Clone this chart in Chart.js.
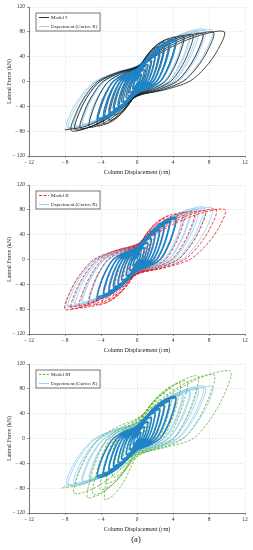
<!DOCTYPE html>
<html>
<head>
<meta charset="utf-8">
<script src="https://cdn.jsdelivr.net/npm/chart.js@4.4.0/dist/chart.umd.min.js"></script>
<style>
  body { margin: 0; background: #fff; width: 253px; height: 550px; position: relative; overflow: hidden; }
  canvas { position: absolute; left: 0; }
  #c1 { top: 0; }
  #c2 { top: 178px; }
  #c3 { top: 357px; }
  #caption { position: absolute; top: 534px; left: 116px; width: 40px; text-align: center;
             font: 8.5px "Liberation Serif", serif; color: #222; }
</style>
</head>
<body>
<canvas id="c1" width="253" height="178"></canvas>
<canvas id="c2" width="253" height="178"></canvas>
<canvas id="c3" width="253" height="178"></canvas>
<div id="caption">(a)</div>
<script>
// axis ticks
const dispTicks = [-12, -8, -4, 0, 4, 8, 12];
const forceTicks = [-120, -80, -40, 0, 40, 80, 120];

// Experiment (Curico X) - small cycles, one row per cycle
const expCoreDisp = [
  0, 0.16, 0.29, 0.4, 0.37, 0.31, 0.24, 0.12, 0, -0.16, -0.29, -0.4,
  -0.37, -0.31, -0.24, -0.12, 0, 0.32, 0.58, 0.8, 0.74, 0.62, 0.48, 0.24, 0, -0.32, -0.58, -0.8,
  -0.74, -0.62, -0.48, -0.24, 0, 0.48, 0.86, 1.2, 1.1, 0.94, 0.72, 0.36, 0, -0.48, -0.86, -1.2,
  -1.1, -0.94, -0.72, -0.36, 0, 0.64, 1.15, 1.6, 1.47, 1.25, 0.96, 0.48, 0, -0.68, -1.22, -1.7,
  -1.56, -1.33, -1.02, -0.51, 0, 0.8, 1.44, 2.0, 1.84, 1.56, 1.2, 0.6, 0, -0.84, -1.51, -2.1,
  -1.93, -1.64, -1.26, -0.63, 0, 1.0, 1.8, 2.5, 2.3, 1.95, 1.5, 0.75, 0, -1.04, -1.87, -2.6,
  -2.39, -2.03, -1.56, -0.78, 0, 1.0, 1.8, 2.5, 2.3, 1.95, 1.5, 0.75, 0, -1.04, -1.87, -2.6,
  -2.39, -2.03, -1.56, -0.78, 0, 1.2, 2.16, 3.0, 2.76, 2.34, 1.8, 0.9, 0, -1.24, -2.23, -3.1,
  -2.85, -2.42, -1.86, -0.93, 0, 1.2, 2.16, 3.0, 2.76, 2.34, 1.8, 0.9, 0, -1.24, -2.23, -3.1,
  -2.85, -2.42, -1.86, -0.93, 0, 1.44, 2.59, 3.6, 3.31, 2.81, 2.16, 1.08, 0, -1.48, -2.66, -3.7,
  -3.4, -2.89, -2.22, -1.11, 0, 1.44, 2.59, 3.6, 3.31, 2.81, 2.16, 1.08, 0, -1.48, -2.66, -3.7,
  -3.4, -2.89, -2.22, -1.11, 0, 1.72, 3.1, 4.3, 3.96, 3.35, 2.58, 1.29, 0, -1.76, -3.17, -4.4,
  -4.05, -3.43, -2.64, -1.32, 0, 1.72, 3.1, 4.3, 3.96, 3.35, 2.58, 1.29, 0, -1.76, -3.17, -4.4
];
const expCoreForce = [
  0, 7, 9.3, 10, 6.2, 2.8, 0, -1.8, -3, -7, -9.3, -10,
  -6.2, -2.8, 0, 3.4, 5.7, 13.3, 17.7, 19, 11.8, 5.3, 0, -3.2, -5.4, -12.6, -16.7, -18,
  -11.2, -5, 0, 4.9, 8.1, 18.9, 25.1, 27, 16.7, 7.6, 0, -4.7, -7.8, -18.2, -24.2, -26,
  -16.1, -7.3, 0, 6.1, 10.2, 23.8, 31.6, 34, 21.1, 9.5, 0, -5.9, -9.9, -23.1, -30.7, -33,
  -20.5, -9.2, 0, 7.4, 12.3, 28.7, 38.1, 41, 25.4, 11.5, 0, -7, -11.7, -27.3, -36.3, -39,
  -24.2, -10.9, 0, 8.6, 14.4, 33.6, 44.6, 48, 29.8, 13.4, 0, -8.1, -13.5, -31.5, -41.9, -45,
  -27.9, -12.6, 0, 8.3, 13.8, 32.2, 42.8, 46, 28.5, 12.9, 0, -7.7, -12.9, -30.1, -40, -43,
  -26.7, -12, 0, 9.9, 16.5, 38.5, 51.2, 55, 34.1, 15.4, 0, -9.2, -15.3, -35.7, -47.4, -51,
  -31.6, -14.3, 0, 9.5, 15.9, 37.1, 49.3, 53, 32.9, 14.8, 0, -8.8, -14.7, -34.3, -45.6, -49,
  -30.4, -13.7, 0, 11, 18.3, 42.7, 56.7, 61, 37.8, 17.1, 0, -10.3, -17.1, -39.9, -53, -57,
  -35.3, -16, 0, 10.6, 17.7, 41.3, 54.9, 59, 36.6, 16.5, 0, -9.9, -16.5, -38.5, -51.2, -55,
  -34.1, -15.4, 0, 12.1, 20.1, 46.9, 62.3, 67, 41.5, 18.8, 0, -11.2, -18.6, -43.4, -57.7, -62,
  -38.4, -17.4, 0, 11.7, 19.5, 45.5, 60.5, 65, 40.3, 18.2, 0, -10.8, -18, -42, -55.8, -60
];

// Experiment (Curico X) - large cycles
const expOuterDisp = [
  -4.4,
  -4.05, -3.43, -2.64, -1.32, 0, 2.0, 3.6, 5.0, 4.6, 3.9, 3.0, 1.5, 0, -2.08, -3.74, -5.2,
  -4.78, -4.06, -3.12, -1.56, 0, 2.04, 3.67, 5.1, 4.69, 3.98, 3.06, 1.53, 0, -2.12, -3.82, -5.3,
  -4.88, -4.13, -3.18, -1.59, 0, 2.32, 4.18, 5.8, 5.34, 4.52, 3.48, 1.74, 0, -2.4, -4.32, -6.0,
  -5.52, -4.68, -3.6, -1.8, 0, 2.36, 4.25, 5.9, 5.43, 4.6, 3.54, 1.77, 0, -2.44, -4.39, -6.1,
  -5.61, -4.76, -3.66, -1.83, 0, 2.64, 4.75, 6.6, 6.07, 5.15, 3.96, 1.98, 0, -2.72, -4.9, -6.8,
  -6.26, -5.3, -4.08, -2.04, 0, 2.72, 4.9, 6.8, 6.26, 5.3, 4.08, 2.04, 0, -2.8, -5.04, -7.0,
  -6.44, -5.46, -4.2, -2.1, 0, 2.96, 5.33, 7.4, 6.81, 5.77, 4.44, 2.22, 0, -3.04, -5.47, -7.6,
  -6.99, -5.93, -4.56, -2.28, 0, 3.04, 5.47, 7.6, 6.99, 5.93, 4.56, 2.28, 0, -3.12, -5.62, -7.8,
  -7.18, -6.08, -4.68, -2.34, 0, 3.36, 6.05, 8.4, 7.73, 6.55, 5.04, 2.52, 0, -3.24, -5.83, -8.1
];
const expOuterForce = [
  -60,
  -38.4, -17.4, 0, 13, 21.6, 50.4, 67, 72, 44.6, 20.2, 0, -11.9, -19.8, -46.2, -61.4, -66,
  -40.9, -18.5, 0, 12.6, 21, 49, 65.1, 70, 43.4, 19.6, 0, -11.5, -19.2, -44.8, -59.5, -64,
  -39.7, -17.9, 0, 13.9, 23.1, 53.9, 71.6, 77, 47.7, 21.6, 0, -12.6, -21, -49, -65.1, -70,
  -43.4, -19.6, 0, 13.5, 22.5, 52.5, 69.8, 75, 46.5, 21, 0, -12.2, -20.4, -47.6, -63.2, -68,
  -42.2, -19, 0, 14.6, 24.3, 56.7, 75.3, 81, 50.2, 22.7, 0, -13.1, -21.9, -51.1, -67.9, -73,
  -45.3, -20.4, 0, 14.2, 23.7, 55.3, 73.5, 79, 49, 22.1, 0, -12.8, -21.3, -49.7, -66, -71,
  -44, -19.9, 0, 15.1, 25.2, 58.8, 78.1, 84, 52.1, 23.5, 0, -13.5, -22.5, -52.5, -69.8, -75,
  -46.5, -21, 0, 14.8, 24.6, 57.4, 76.3, 82, 50.8, 23, 0, -13.1, -21.9, -51.1, -67.9, -73,
  -45.3, -20.4, 0, 14.9, 24.9, 58.1, 77.2, 83, 51.5, 23.2, 0, -13.9, -23.1, -53.9, -71.6, -77
];

// Model I
const model1Disp = [
  0, 0.2, 0.36, 0.5, 0.46, 0.39, 0.3, 0.15, 0, -0.2, -0.36, -0.5,
  -0.46, -0.39, -0.3, -0.15, 0, 0.4, 0.72, 1.0, 0.92, 0.78, 0.6, 0.3, 0, -0.4, -0.72, -1.0,
  -0.92, -0.78, -0.6, -0.3, 0, 0.6, 1.08, 1.5, 1.38, 1.17, 0.9, 0.45, 0, -0.6, -1.08, -1.5,
  -1.38, -1.17, -0.9, -0.45, 0, 0.8, 1.44, 2.0, 1.84, 1.56, 1.2, 0.6, 0, -0.8, -1.44, -2.0,
  -1.84, -1.56, -1.2, -0.6, 0, 1.0, 1.8, 2.5, 2.3, 1.95, 1.5, 0.75, 0, -1.04, -1.87, -2.6,
  -2.39, -2.03, -1.56, -0.78, 0, 1.2, 2.16, 3.0, 2.76, 2.34, 1.8, 0.9, 0, -1.24, -2.23, -3.1,
  -2.85, -2.42, -1.86, -0.93, 0, 1.44, 2.59, 3.6, 3.31, 2.81, 2.16, 1.08, 0, -1.48, -2.66, -3.7,
  -3.4, -2.89, -2.22, -1.11, 0, 1.72, 3.1, 4.3, 3.96, 3.35, 2.58, 1.29, 0, -1.76, -3.17, -4.4,
  -4.05, -3.43, -2.64, -1.32, 0, 2.08, 3.74, 5.2, 4.78, 4.06, 3.12, 1.56, 0, -2.12, -3.82, -5.3,
  -4.88, -4.13, -3.18, -1.59, 0, 2.48, 4.46, 6.2, 5.7, 4.84, 3.72, 1.86, 0, -2.52, -4.54, -6.3,
  -5.8, -4.91, -3.78, -1.89, 0, 2.92, 5.26, 7.3, 6.72, 5.69, 4.38, 2.19, 0, -2.76, -4.97, -6.9,
  -6.35, -5.38, -4.14, -2.07, 0, 3.4, 6.12, 8.5, 7.82, 6.63, 5.1, 2.55, 0, -2.92, -5.26, -7.3,
  -6.72, -5.69, -4.38, -2.19, 0, 3.88, 6.98, 9.7, 8.92, 7.57, 5.82, 2.91, 0, -3.2, -5.76, -8.0
];
const model1Force = [
  0, 8.4, 11.2, 12, 7.4, 3.4, 0, -2.2, -3.6, -8.4, -11.2, -12,
  -7.4, -3.4, 0, 4.3, 7.2, 16.8, 22.3, 24, 14.9, 6.7, 0, -4.1, -6.9, -16.1, -21.4, -23,
  -14.3, -6.4, 0, 6.3, 10.5, 24.5, 32.6, 35, 21.7, 9.8, 0, -5.9, -9.9, -23.1, -30.7, -33,
  -20.5, -9.2, 0, 8.3, 13.8, 32.2, 42.8, 46, 28.5, 12.9, 0, -7.9, -13.2, -30.8, -40.9, -44,
  -27.3, -12.3, 0, 10.1, 16.8, 39.2, 52.1, 56, 34.7, 15.7, 0, -9.7, -16.2, -37.8, -50.2, -54,
  -33.5, -15.1, 0, 11.3, 18.9, 44.1, 58.6, 63, 39.1, 17.6, 0, -11.2, -18.6, -43.4, -57.7, -62,
  -38.4, -17.4, 0, 12.2, 20.4, 47.6, 63.2, 68, 42.2, 19, 0, -12.2, -20.4, -47.6, -63.2, -68,
  -42.2, -19, 0, 12.8, 21.3, 49.7, 66, 71, 44, 19.9, 0, -12.8, -21.3, -49.7, -66, -71,
  -44, -19.9, 0, 13.1, 21.9, 51.1, 67.9, 73, 45.3, 20.4, 0, -13.1, -21.9, -51.1, -67.9, -73,
  -45.3, -20.4, 0, 13.5, 22.5, 52.5, 69.8, 75, 46.5, 21, 0, -13.5, -22.5, -52.5, -69.8, -75,
  -46.5, -21, 0, 13.9, 23.1, 53.9, 71.6, 77, 47.7, 21.6, 0, -13.9, -23.1, -53.9, -71.6, -77,
  -47.7, -21.6, 0, 14.2, 23.7, 55.3, 73.5, 79, 49, 22.1, 0, -14.2, -23.7, -55.3, -73.5, -79,
  -49, -22.1, 0, 14.4, 24, 56, 74.4, 80, 49.6, 22.4, 0, -14, -23.4, -54.6, -72.5, -78
];

// Model II
const model2Disp = [
  0, 0.2, 0.36, 0.5, 0.46, 0.39, 0.3, 0.15, 0, -0.2, -0.36, -0.5,
  -0.46, -0.39, -0.3, -0.15, 0, 0.4, 0.72, 1.0, 0.92, 0.78, 0.6, 0.3, 0, -0.4, -0.72, -1.0,
  -0.92, -0.78, -0.6, -0.3, 0, 0.6, 1.08, 1.5, 1.38, 1.17, 0.9, 0.45, 0, -0.64, -1.15, -1.6,
  -1.47, -1.25, -0.96, -0.48, 0, 0.8, 1.44, 2.0, 1.84, 1.56, 1.2, 0.6, 0, -0.84, -1.51, -2.1,
  -1.93, -1.64, -1.26, -0.63, 0, 1.04, 1.87, 2.6, 2.39, 2.03, 1.56, 0.78, 0, -1.04, -1.87, -2.6,
  -2.39, -2.03, -1.56, -0.78, 0, 1.24, 2.23, 3.1, 2.85, 2.42, 1.86, 0.93, 0, -1.28, -2.3, -3.2,
  -2.94, -2.5, -1.92, -0.96, 0, 1.48, 2.66, 3.7, 3.4, 2.89, 2.22, 1.11, 0, -1.52, -2.74, -3.8,
  -3.5, -2.96, -2.28, -1.14, 0, 1.76, 3.17, 4.4, 4.05, 3.43, 2.64, 1.32, 0, -1.8, -3.24, -4.5,
  -4.14, -3.51, -2.7, -1.35, 0, 2.12, 3.82, 5.3, 4.88, 4.13, 3.18, 1.59, 0, -2.16, -3.89, -5.4,
  -4.97, -4.21, -3.24, -1.62, 0, 2.56, 4.61, 6.4, 5.89, 4.99, 3.84, 1.92, 0, -2.56, -4.61, -6.4,
  -5.89, -4.99, -3.84, -1.92, 0, 3.04, 5.47, 7.6, 6.99, 5.93, 4.56, 2.28, 0, -2.92, -5.26, -7.3,
  -6.72, -5.69, -4.38, -2.19, 0, 3.52, 6.34, 8.8, 8.1, 6.86, 5.28, 2.64, 0, -3.2, -5.76, -8.0,
  -7.36, -6.24, -4.8, -2.4, 0, 3.92, 7.06, 9.8, 9.02, 7.64, 5.88, 2.94, 0, -3.04, -5.47, -7.6
];
const model2Force = [
  0, 9.8, 13, 14, 8.7, 3.9, 0, -2.3, -3.9, -9.1, -12.1, -13,
  -8.1, -3.6, 0, 4.9, 8.1, 18.9, 25.1, 27, 16.7, 7.6, 0, -4.5, -7.5, -17.5, -23.3, -25,
  -15.5, -7, 0, 6.8, 11.4, 26.6, 35.3, 38, 23.6, 10.6, 0, -6.5, -10.8, -25.2, -33.5, -36,
  -22.3, -10.1, 0, 8.6, 14.4, 33.6, 44.6, 48, 29.8, 13.4, 0, -8.5, -14.1, -32.9, -43.7, -47,
  -29.1, -13.2, 0, 10.4, 17.4, 40.6, 53.9, 58, 36, 16.2, 0, -10.3, -17.1, -39.9, -53, -57,
  -35.3, -16, 0, 11.7, 19.5, 45.5, 60.5, 65, 40.3, 18.2, 0, -11.5, -19.2, -44.8, -59.5, -64,
  -39.7, -17.9, 0, 12.6, 21, 49, 65.1, 70, 43.4, 19.6, 0, -12.6, -21, -49, -65.1, -70,
  -43.4, -19.6, 0, 13.1, 21.9, 51.1, 67.9, 73, 45.3, 20.4, 0, -13.1, -21.9, -51.1, -67.9, -73,
  -45.3, -20.4, 0, 13.5, 22.5, 52.5, 69.8, 75, 46.5, 21, 0, -13.5, -22.5, -52.5, -69.8, -75,
  -46.5, -21, 0, 13.9, 23.1, 53.9, 71.6, 77, 47.7, 21.6, 0, -13.9, -23.1, -53.9, -71.6, -77,
  -47.7, -21.6, 0, 14, 23.4, 54.6, 72.5, 78, 48.4, 21.8, 0, -14, -23.4, -54.6, -72.5, -78,
  -48.4, -21.8, 0, 14.4, 24, 56, 74.4, 80, 49.6, 22.4, 0, -14.4, -24, -56, -74.4, -80,
  -49.6, -22.4, 0, 14.4, 24, 56, 74.4, 80, 49.6, 22.4, 0, -13.9, -23.1, -53.9, -71.6, -77
];

// Model III
const model3Disp = [
  0, 0.2, 0.36, 0.5, 0.46, 0.39, 0.3, 0.15, 0, -0.2, -0.36, -0.5,
  -0.46, -0.39, -0.3, -0.15, 0, 0.4, 0.72, 1.0, 0.92, 0.78, 0.6, 0.3, 0, -0.4, -0.72, -1.0,
  -0.92, -0.78, -0.6, -0.3, 0, 0.6, 1.08, 1.5, 1.38, 1.17, 0.9, 0.45, 0, -0.64, -1.15, -1.6,
  -1.47, -1.25, -0.96, -0.48, 0, 0.84, 1.51, 2.1, 1.93, 1.64, 1.26, 0.63, 0, -0.84, -1.51, -2.1,
  -1.93, -1.64, -1.26, -0.63, 0, 1.08, 1.94, 2.7, 2.48, 2.11, 1.62, 0.81, 0, -1.08, -1.94, -2.7,
  -2.48, -2.11, -1.62, -0.81, 0, 1.32, 2.38, 3.3, 3.04, 2.57, 1.98, 0.99, 0, -1.36, -2.45, -3.4,
  -3.13, -2.65, -2.04, -1.02, 0, 1.6, 2.88, 4.0, 3.68, 3.12, 2.4, 1.2, 0, -1.64, -2.95, -4.1,
  -3.77, -3.2, -2.46, -1.23, 0, 1.92, 3.46, 4.8, 4.42, 3.74, 2.88, 1.44, 0, -1.96, -3.53, -4.9,
  -4.51, -3.82, -2.94, -1.47, 0, 2.24, 4.03, 5.6, 5.15, 4.37, 3.36, 1.68, 0, -1.44, -2.59, -3.6,
  -3.31, -2.81, -2.16, -1.08, 0, 2.72, 4.9, 6.8, 6.26, 5.3, 4.08, 2.04, 0, -2.2, -3.96, -5.5,
  -5.06, -4.29, -3.3, -1.65, 0, 3.44, 6.19, 8.6, 7.91, 6.71, 5.16, 2.58, 0, -2.8, -5.04, -7.0,
  -6.44, -5.46, -4.2, -2.1, 0, 4.16, 7.49, 10.4, 9.57, 8.11, 6.24, 3.12, 0, -3.4, -6.12, -8.5
];
const model3Force = [
  0, 9.8, 13, 14, 8.7, 3.9, 0, -2.2, -3.6, -8.4, -11.2, -12,
  -7.4, -3.4, 0, 5, 8.4, 19.6, 26, 28, 17.4, 7.8, 0, -4.7, -7.8, -18.2, -24.2, -26,
  -16.1, -7.3, 0, 7.2, 12, 28, 37.2, 40, 24.8, 11.2, 0, -6.8, -11.4, -26.6, -35.3, -38,
  -23.6, -10.6, 0, 9.4, 15.6, 36.4, 48.4, 52, 32.2, 14.6, 0, -9, -15, -35, -46.5, -50,
  -31, -14, 0, 11.2, 18.6, 43.4, 57.7, 62, 38.4, 17.4, 0, -11.2, -18.6, -43.4, -57.7, -62,
  -38.4, -17.4, 0, 13, 21.6, 50.4, 67, 72, 44.6, 20.2, 0, -13, -21.6, -50.4, -67, -72,
  -44.6, -20.2, 0, 14.4, 24, 56, 74.4, 80, 49.6, 22.4, 0, -14.8, -24.6, -57.4, -76.3, -82,
  -50.8, -23, 0, 15.8, 26.4, 61.6, 81.8, 88, 54.6, 24.6, 0, -16.2, -27, -63, -83.7, -90,
  -55.8, -25.2, 0, 16.6, 27.6, 64.4, 85.6, 92, 57, 25.8, 0, -17.6, -29.4, -68.6, -91.1, -98,
  -60.8, -27.4, 0, 18, 30, 70, 93, 100, 62, 28, 0, -17.1, -28.5, -66.5, -88.4, -95,
  -58.9, -26.6, 0, 18.4, 30.6, 71.4, 94.9, 102, 63.2, 28.6, 0, -15.8, -26.4, -61.6, -81.8, -88,
  -54.6, -24.6, 0, 19.4, 32.4, 75.6, 100.4, 108, 67, 30.2, 0, -14.4, -24, -56, -74.4, -80
];

const expColor = '#92cdee';
const expCoreColor = '#1f84c6';
const serif = '"Liberation Serif", "DejaVu Serif", serif';

function toPoints(xs, ys) {
    return xs.map((x, i) => ({ x: x, y: ys[i] }));
}

function minusLabel(v) {
    return v < 0 ? '\u2212 ' + Math.abs(v) : String(v);
}

// legend drawn as a framed box in the top-left of the plot
const boxLegend = {
    id: 'boxLegend',
    afterDraw(chart, args, opts) {
        const ctx = chart.ctx;
        const x = chart.chartArea.left + 7;
        const y = chart.chartArea.top + 6;
        const w = 64, h = 18;
        ctx.save();
        ctx.fillStyle = '#fff';
        ctx.fillRect(x, y, w, h);
        ctx.strokeStyle = '#555';
        ctx.lineWidth = 0.8;
        ctx.strokeRect(x, y, w, h);
        const rows = [
            { label: opts.modelLabel, color: opts.modelColor, dash: opts.modelDash },
            { label: 'Experiment (Curico X)', color: expColor, dash: [] }
        ];
        ctx.font = '5px ' + serif;
        ctx.textBaseline = 'middle';
        rows.forEach((r, i) => {
            const ry = y + 4.5 + i * 9;
            ctx.strokeStyle = r.color;
            ctx.lineWidth = 0.9;
            ctx.setLineDash(r.dash);
            ctx.beginPath();
            ctx.moveTo(x + 3, ry);
            ctx.lineTo(x + 13, ry);
            ctx.stroke();
            ctx.setLineDash([]);
            ctx.fillStyle = '#222';
            ctx.fillText(r.label, x + 15, ry);
        });
        ctx.restore();
    }
};

function makeChart(id, modelLabel, mDisp, mForce, mColor, mDash) {
    const ctx = document.getElementById(id).getContext('2d');
    return new Chart(ctx, {
        type: 'scatter',
        data: {
            datasets: [
                {
                    label: 'Experiment (Curico X)',
                    data: toPoints(expCoreDisp, expCoreForce),
                    borderColor: expCoreColor,
                    borderWidth: 1.6
                },
                {
                    label: modelLabel,
                    data: toPoints(mDisp, mForce),
                    borderColor: mColor,
                    borderDash: mDash,
                    borderWidth: 0.8
                },
                {
                    label: 'Experiment (Curico X)',
                    data: toPoints(expOuterDisp, expOuterForce),
                    borderColor: expColor,
                    borderWidth: 0.8
                }
            ]
        },
        options: {
            responsive: false,
            animation: false,
            layout: { padding: { top: 7, right: 8, left: 0, bottom: 0 } },
            elements: {
                point: { radius: 0 },
                line: { tension: 0.3, fill: false }
            },
            showLine: true,
            plugins: {
                legend: { display: false },
                tooltip: { enabled: false },
                boxLegend: { modelLabel: modelLabel, modelColor: mColor, modelDash: mDash }
            },
            scales: {
                x: {
                    type: 'linear',
                    min: -12,
                    max: 12,
                    afterBuildTicks: s => { s.ticks = dispTicks.map(v => ({ value: v })); },
                    afterFit: s => { s.height = 22; },
                    ticks: {
                        callback: minusLabel,
                        font: { family: serif, size: 5.5 },
                        color: '#333',
                        padding: 1,
                        maxRotation: 0
                    },
                    grid: { color: '#cfcfcf', lineWidth: 0.6, tickLength: 2, tickColor: '#555' },
                    border: { display: true, color: '#555', width: 0.8, dash: [1, 1.5] },
                    title: {
                        display: true,
                        text: 'Column Displacement (cm)',
                        font: { family: serif, size: 6 },
                        color: '#222',
                        padding: { top: 0, bottom: 2 }
                    }
                },
                y: {
                    type: 'linear',
                    min: -120,
                    max: 120,
                    afterBuildTicks: s => { s.ticks = forceTicks.map(v => ({ value: v })); },
                    afterFit: s => { s.width = 29; },
                    ticks: {
                        callback: minusLabel,
                        font: { family: serif, size: 5.5 },
                        color: '#333',
                        padding: 2
                    },
                    grid: { color: '#cfcfcf', lineWidth: 0.6, tickLength: 2, tickColor: '#555' },
                    border: { display: true, color: '#555', width: 0.8, dash: [1, 1.5] },
                    title: {
                        display: true,
                        text: 'Lateral Force (kN)',
                        font: { family: serif, size: 6 },
                        color: '#222',
                        padding: { top: 6, bottom: 0 }
                    }
                }
            }
        },
        plugins: [boxLegend]
    });
}

makeChart('c1', 'Model I', model1Disp, model1Force, '#1a1a1a', []);
makeChart('c2', 'Model II', model2Disp, model2Force, '#e8141c', [3, 1.5]);
makeChart('c3', 'Model III', model3Disp, model3Force, '#5cb236', [2.5, 1.5]);
</script>
</body>
</html>
